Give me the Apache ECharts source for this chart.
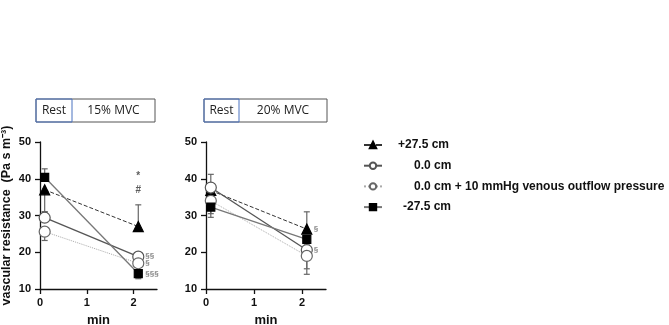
<!DOCTYPE html>
<html><head><meta charset="utf-8">
<script src="https://cdn.jsdelivr.net/npm/echarts@6/dist/echarts.min.js"></script>
<style>html,body{margin:0;padding:0;background:#fff}#c{width:669px;height:325px}</style>
</head><body><div id="c"></div>
<script>
const seriesNames = ['+27.5 cm', '0.0 cm', '0.0 cm + 10 mmHg venous outflow pressure', '-27.5 cm'];
const times = [0.1, 2.1];
const xTicks = [0, 1, 2];
const yTicks = [10, 20, 30, 40, 50];
// 15% MVC panel
const mvc15_pos275 = [37, 27];
const mvc15_zero = [29.4, 18.8];
const mvc15_venous = [25.6, 17];
const mvc15_neg275 = [40.4, 14.2];
// 20% MVC panel
const mvc20_pos275 = [36.8, 26.3];
const mvc20_zero = [37.6, 20.6];
const mvc20_venous = [34, 19];
const mvc20_neg275 = [32.3, 23.5];
// error bar ends [time, mean, end]
const err15 = [[0.1, 40.4, 42.7], [0.1, 37, 31], [0.1, 25.6, 23.2], [0.1, 29.4, 31], [2.1, 27, 32.9], [2.1, 14.2, 12.8], [2.1, 18.8, 19.6]];
const err20 = [[0.1, 37.6, 41.2], [0.1, 32.3, 29.5], [0.1, 34, 30.5], [2.1, 26.3, 31], [2.1, 19, 14], [2.1, 20.6, 15.5], [2.1, 23.5, 22]];
// annotations [time, value, text]
const ann15Top = [[2.1, 40.8, '*'], [2.1, 37, '#']];
const ann15Side = [[2.1, 19, '§§'], [2.1, 17, '§'], [2.1, 14.2, '§§§']];
const ann20Side = [[2.1, 26.3, '§'], [2.1, 20.6, '§']];

const FONT = 'Liberation Sans';
const styles = [
  {symbol: 'triangle', size: 10, fill: '#000', stroke: '#000', line: '#333', type: 'dashed', w: 1},
  {symbol: 'circle', size: 11, fill: '#fff', stroke: '#555', line: '#555', type: 'solid', w: 1.3},
  {symbol: 'circle', size: 11, fill: '#fff', stroke: '#666', line: '#aaa', type: 'dotted', w: 1},
  {symbol: 'rect', size: 8, fill: '#000', stroke: '#000', line: '#777', type: 'solid', w: 1.3}
];
function pts(arr) { return arr.map((v, i) => [times[i], v]); }
function lineSeries(idx, vals, gi) {
  const s = styles[idx];
  return {
    name: seriesNames[idx], type: 'line', xAxisIndex: gi, yAxisIndex: gi,
    data: pts(vals), symbol: s.symbol, symbolSize: s.size, z: 5,
    lineStyle: {color: s.line, type: s.type, width: s.w},
    itemStyle: {color: s.fill, borderColor: s.stroke, borderWidth: 1.2},
    emphasis: {disabled: true}, animation: false
  };
}
function errSeries(data, gi) {
  return {
    type: 'custom', xAxisIndex: gi, yAxisIndex: gi, data: data, z: 2, silent: true, animation: false,
    renderItem: function (params, api) {
      const a = api.coord([api.value(0), api.value(1)]);
      const b = api.coord([api.value(0), api.value(2)]);
      const st = {stroke: '#666', lineWidth: 1.2};
      return {type: 'group', children: [
        {type: 'line', shape: {x1: a[0], y1: a[1], x2: b[0], y2: b[1]}, style: st},
        {type: 'line', shape: {x1: b[0] - 3, y1: b[1], x2: b[0] + 3, y2: b[1]}, style: st}
      ]};
    }
  };
}
function annSeries(data, gi, pos, dist, size, color) {
  return {
    type: 'scatter', xAxisIndex: gi, yAxisIndex: gi, data: data, symbolSize: 0.01, z: 6, silent: true, animation: false,
    itemStyle: {color: 'transparent'},
    label: {show: true, position: pos, distance: dist, formatter: p => p.data[2], fontFamily: FONT, fontSize: size, color: color, fontWeight: 'bold'}
  };
}
function xAx(gi) {
  return {
    gridIndex: gi, type: 'value', min: 0, max: 2.5, interval: 1,
    name: 'min', nameLocation: 'middle', nameGap: 25,
    nameTextStyle: {fontFamily: FONT, fontSize: 13, fontWeight: 'bold', color: '#111'},
    axisLine: {show: true, onZero: false, lineStyle: {color: '#111', width: 1.3}},
    axisTick: {show: true, length: 5, customValues: xTicks, lineStyle: {color: '#111', width: 1.3}},
    axisLabel: {customValues: xTicks, margin: 8, fontFamily: FONT, fontSize: 11, fontWeight: 'bold', color: '#111'},
    splitLine: {show: false}
  };
}
function yAx(gi, withName) {
  return {
    gridIndex: gi, type: 'value', min: 10, max: 50, interval: 10,
    name: withName ? 'vascular resistance  (Pa s m⁻³)' : '', nameLocation: 'middle', nameGap: 27, nameRotate: 90,
    nameTextStyle: {fontFamily: FONT, fontSize: 12.5, fontWeight: 'bold', color: '#111'},
    axisLine: {show: true, lineStyle: {color: '#111', width: 1.3}},
    axisTick: {show: true, length: 5, lineStyle: {color: '#111', width: 1.3}},
    axisLabel: {margin: 9, fontFamily: FONT, fontSize: 11, fontWeight: 'bold', color: '#111'},
    splitLine: {show: false}
  };
}
function box(x, y, wRest, wTot, h, label) {
  return [
    {type: 'rect', shape: {x: x, y: y, width: wTot, height: h}, style: {fill: '#fff', stroke: '#555', lineWidth: 1}},
    {type: 'rect', shape: {x: x, y: y, width: wRest, height: h}, style: {fill: 'none', stroke: '#4a72c0', lineWidth: 1}},
    {type: 'text', x: x + wRest / 2, y: y + h / 2, style: {text: 'Rest', fontFamily: 'Open Sans', fontSize: 12, fill: '#222', align: 'center', verticalAlign: 'middle'}},
    {type: 'text', x: x + wRest + (wTot - wRest) / 2, y: y + h / 2, style: {text: label, fontFamily: 'Open Sans', fontSize: 12, fill: '#222', align: 'center', verticalAlign: 'middle'}}
  ];
}
const legendPads = [7, 23, 23, 12];
const chart = echarts.init(document.getElementById('c'), null, {renderer: 'canvas'});
chart.setOption({
  backgroundColor: '#fff',
  animation: false,
  grid: [
    {left: 40, top: 142, width: 117, height: 147, outerBoundsMode: 'none', containLabel: false},
    {left: 206, top: 142, width: 120, height: 147, outerBoundsMode: 'none', containLabel: false}
  ],
  xAxis: [xAx(0), xAx(1)],
  yAxis: [yAx(0, true), yAx(1, false)],
  legend: {
    orient: 'vertical', left: 358, top: 133, itemWidth: 18, itemHeight: 8, itemGap: 6.7,
    selectedMode: false,
    data: seriesNames.map((n, i) => ({name: n, textStyle: {padding: [0, 0, 0, legendPads[i] + 4]}})),
    textStyle: {fontFamily: FONT, fontSize: 12, fontWeight: 'bold', color: '#111', lineHeight: 14}
  },
  graphic: box(36, 99, 36, 119, 23, '15% MVC').concat(box(204, 99, 35, 123, 23, '20% MVC')),
  series: [
    errSeries(err15, 0), errSeries(err20, 1),
    lineSeries(0, mvc15_pos275, 0), lineSeries(1, mvc15_zero, 0), lineSeries(2, mvc15_venous, 0), lineSeries(3, mvc15_neg275, 0),
    lineSeries(0, mvc20_pos275, 1), lineSeries(1, mvc20_zero, 1), lineSeries(2, mvc20_venous, 1), lineSeries(3, mvc20_neg275, 1),
    annSeries(ann15Top, 0, 'inside', 0, 10, '#333'),
    annSeries(ann15Side, 0, 'right', 7, 8, '#666'),
    annSeries(ann20Side, 1, 'right', 7, 8, '#666')
  ]
});
</script></body></html>
